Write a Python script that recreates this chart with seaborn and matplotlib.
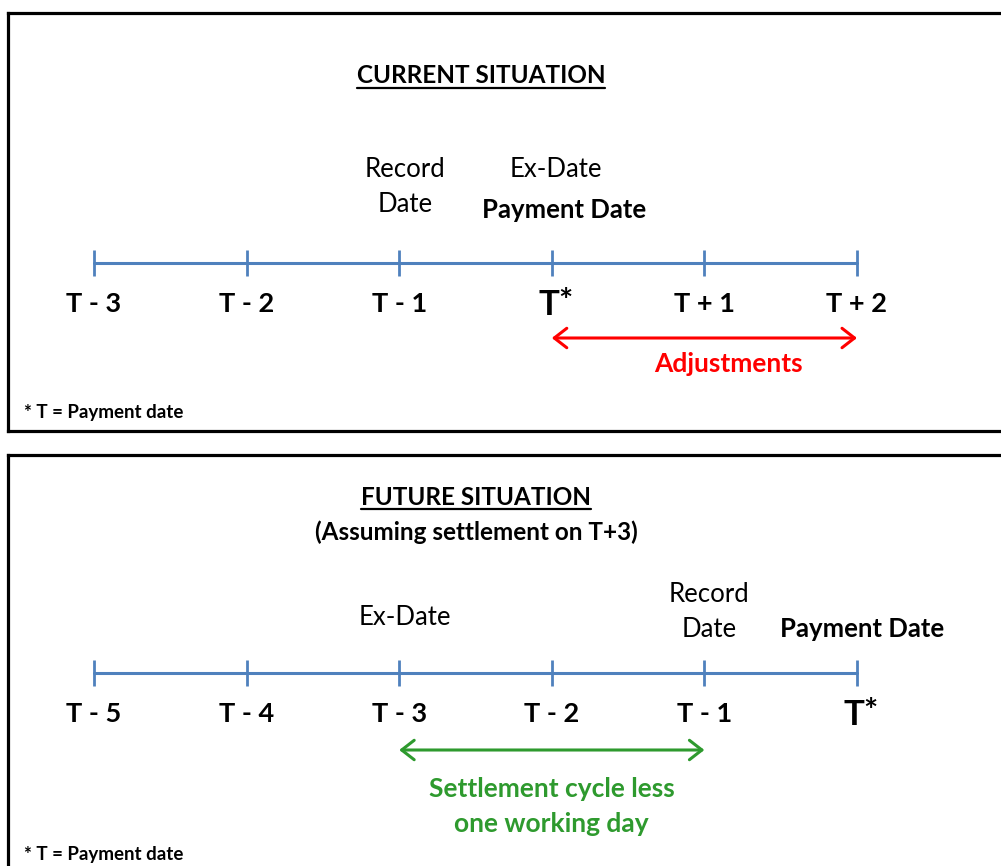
import matplotlib
matplotlib.use("Agg")
import matplotlib.pyplot as plt
import seaborn as sns
import pandas as pd

sns.set_theme(style="white")
plt.rcParams['font.family'] = ['Lato', 'DejaVu Sans']

# days on each timeline
current_days = ["T - 3", "T - 2", "T - 1", "T", "T + 1", "T + 2"]
future_days = ["T - 5", "T - 4", "T - 3", "T - 2", "T - 1", "T"]

# events written above the line
current_events = ["Record\nDate", "Ex-Date", "Payment Date"]
current_event_days = ["T - 1", "T", "T"]
future_events = ["Ex-Date", "Record\nDate", "Payment Date"]
future_event_days = ["T - 3", "T - 1", "T"]

# ranges drawn under the line
current_span = ["T", "T + 2"]
current_span_label = "Adjustments"
future_span = ["T - 3", "T - 1"]
future_span_label = "Settlement cycle less\none working day"

current_title = "CURRENT SITUATION"
future_title = "FUTURE SITUATION"
future_subtitle = "(Assuming settlement on T+3)"
footnote = "* T = Payment date"

BLUE = "#4F81BD"
RED = "#FF0000"
GREEN = "#2E9A2E"
W, H = 1001, 866
UNIT = (857 - 94) / 5  # px between days


fig = plt.figure(figsize=(W / 100, H / 100), dpi=100)


def make_panel(top, bottom):
    left, right = 8, 1014
    ax = fig.add_axes([left / W, 1 - bottom / H, (right - left) / W, (bottom - top) / H])
    ax.set_xlim(-(94 - left) / UNIT, 5 + (right - 857) / UNIT)
    ax.set_ylim(bottom, top)  # y in figure pixels from the top
    ax.set_xticks([])
    ax.set_yticks([])
    for s in ax.spines.values():
        s.set_color("black")
        s.set_linewidth(2.3)
    ax.patch.set_alpha(0)
    return ax


def draw_panel(ax, days, events, event_days, event_style, span, span_label, span_color,
               line_y, label_y, arrow_y, span_text_y, foot_y):
    df = pd.DataFrame({"slot": range(len(days)), "day": days, "y": line_y})
    sns.lineplot(data=df, x="slot", y="y", color=BLUE, linewidth=2.2, ax=ax, legend=False)
    sns.scatterplot(data=df, x="slot", y="y", marker="|", s=330, color=BLUE,
                    linewidth=2, ax=ax, legend=False)
    ax.set_xlabel("")
    ax.set_ylabel("")

    # day labels
    for i, d in enumerate(days):
        if d == "T":
            ax.text(i - 3 / UNIT, label_y + 3, "T", ha="center", va="baseline",
                    fontsize=25, fontweight="bold", color="black")
            ax.text(i + 6 / UNIT, label_y - 24, "*", ha="left", va="top",
                    fontsize=24, fontweight="bold", color="black")
        else:
            ax.text(i, label_y, d, ha="center", va="baseline",
                    fontsize=19.5, fontweight="bold", color="black")

    # events above the line
    for name, d, (dx, by, weight) in zip(events, event_days, event_style):
        i = days.index(d)
        for k, line in enumerate(name.split("\n")):
            ax.text(i + dx / UNIT, by + 35 * k, line, ha="center", va="baseline",
                    fontsize=18.5, fontweight=weight, color="black")

    # span arrow
    a, b = days.index(span[0]), days.index(span[1])
    ax.annotate("", xy=(b, arrow_y), xytext=(a, arrow_y),
                arrowprops=dict(arrowstyle="<->,head_length=0.45,head_width=0.35",
                                color=span_color, lw=2.2, shrinkA=0, shrinkB=0,
                                mutation_scale=20))
    for k, line in enumerate(span_label.split("\n")):
        ax.text((a + b) / 2 + span_text_y[0] / UNIT, span_text_y[1] + 35 * k, line,
                ha="center", va="baseline", fontsize=19, fontweight="bold", color=span_color)

    # footnote
    ax.text((24 - 94) / UNIT, foot_y, footnote, fontsize=13.5, fontweight="bold",
            color="black")


def title(ax, text, x_px, base_y, under_y):
    t = ax.text((x_px - 94) / UNIT, base_y, text, ha="center", va="baseline",
                fontsize=17.5, fontweight="bold", color="black")
    fig.canvas.draw()
    bb = t.get_window_extent(fig.canvas.get_renderer())
    inv = ax.transData.inverted()
    x0 = inv.transform((bb.x0, 0))[0]
    x1 = inv.transform((bb.x1, 0))[0]
    ax.plot([x0, x1], [under_y, under_y], color="black", lw=1.6)


# top panel
ax1 = make_panel(13, 431)
draw_panel(ax1, current_days, current_events, current_event_days,
           [(6, 177, "normal"), (4, 177, "normal"), (12, 218, "bold")],
           current_span, current_span_label, RED,
           line_y=263, label_y=312, arrow_y=338, span_text_y=(24, 372), foot_y=418)
title(ax1, current_title, 481, 83, 88)

# bottom panel
ax2 = make_panel(455, 885)
draw_panel(ax2, future_days, future_events, future_event_days,
           [(6, 625, "normal"), (5, 602, "normal"), (5, 637, "bold")],
           future_span, future_span_label, GREEN,
           line_y=673, label_y=722, arrow_y=750, span_text_y=(0, 797), foot_y=860)
title(ax2, future_title, 476, 505, 509)
ax2.text((476 - 94) / UNIT, 540, future_subtitle, ha="center", va="baseline",
         fontsize=17.5, fontweight="bold", color="black")

fig.savefig("out.png", dpi=100)
